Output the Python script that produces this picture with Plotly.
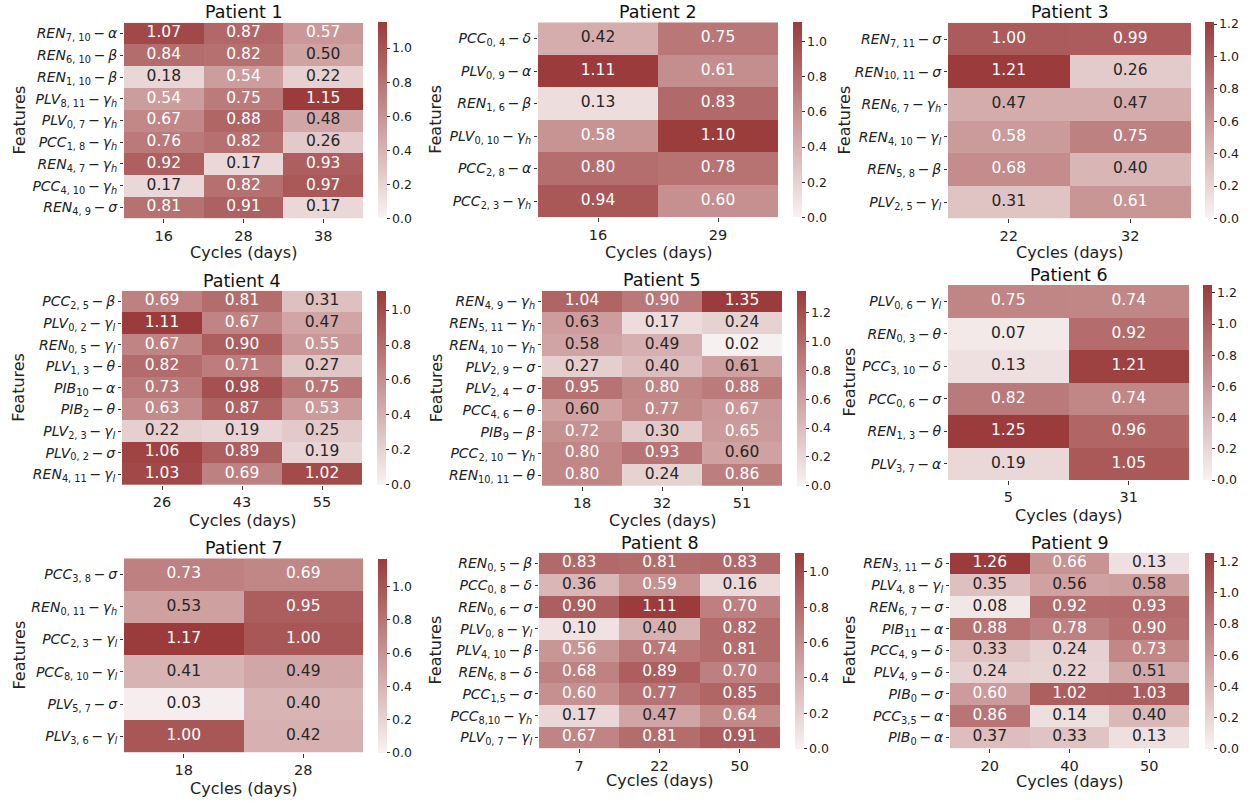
import plotly.graph_objects as go

# ---------------- data ----------------
p1_cycles = ["16", "28", "38"]
p1_features = [("REN", "7, 10", "α"), ("REN", "6, 10", "β"), ("REN", "1, 10", "β"),
               ("PLV", "8, 11", "γh"), ("PLV", "0, 7", "γh"), ("PCC", "1, 8", "γh"),
               ("REN", "4, 7", "γh"), ("PCC", "4, 10", "γh"), ("REN", "4, 9", "σ")]
p1_values = [[1.07, 0.87, 0.57], [0.84, 0.82, 0.50], [0.18, 0.54, 0.22],
             [0.54, 0.75, 1.15], [0.67, 0.88, 0.48], [0.76, 0.82, 0.26],
             [0.92, 0.17, 0.93], [0.17, 0.82, 0.97], [0.81, 0.91, 0.17]]

p2_cycles = ["16", "29"]
p2_features = [("PCC", "0, 4", "δ"), ("PLV", "0, 9", "α"), ("REN", "1, 6", "β"),
               ("PLV", "0, 10", "γh"), ("PCC", "2, 8", "α"), ("PCC", "2, 3", "γh")]
p2_values = [[0.42, 0.75], [1.11, 0.61], [0.13, 0.83], [0.58, 1.10], [0.80, 0.78], [0.94, 0.60]]

p3_cycles = ["22", "32"]
p3_features = [("REN", "7, 11", "σ"), ("REN", "10, 11", "σ"), ("REN", "6, 7", "γh"),
               ("REN", "4, 10", "γl"), ("REN", "5, 8", "β"), ("PLV", "2, 5", "γl")]
p3_values = [[1.00, 0.99], [1.21, 0.26], [0.47, 0.47], [0.58, 0.75], [0.68, 0.40], [0.31, 0.61]]

p4_cycles = ["26", "43", "55"]
p4_features = [("PCC", "2, 5", "β"), ("PLV", "0, 2", "γl"), ("REN", "0, 5", "γl"),
               ("PLV", "1, 3", "θ"), ("PIB", "10", "α"), ("PIB", "2", "θ"),
               ("PLV", "2, 3", "γl"), ("PLV", "0, 2", "σ"), ("REN", "4, 11", "γl")]
p4_values = [[0.69, 0.81, 0.31], [1.11, 0.67, 0.47], [0.67, 0.90, 0.55],
             [0.82, 0.71, 0.27], [0.73, 0.98, 0.75], [0.63, 0.87, 0.53],
             [0.22, 0.19, 0.25], [1.06, 0.89, 0.19], [1.03, 0.69, 1.02]]

p5_cycles = ["18", "32", "51"]
p5_features = [("REN", "4, 9", "γh"), ("REN", "5, 11", "γh"), ("REN", "4, 10", "γh"),
               ("PLV", "2, 9", "σ"), ("PLV", "2, 4", "σ"), ("PCC", "4, 6", "θ"),
               ("PIB", "9", "β"), ("PCC", "2, 10", "γh"), ("REN", "10, 11", "θ")]
p5_values = [[1.04, 0.90, 1.35], [0.63, 0.17, 0.24], [0.58, 0.49, 0.02],
             [0.27, 0.40, 0.61], [0.95, 0.80, 0.88], [0.60, 0.77, 0.67],
             [0.72, 0.30, 0.65], [0.80, 0.93, 0.60], [0.80, 0.24, 0.86]]

p6_cycles = ["5", "31"]
p6_features = [("PLV", "0, 6", "γl"), ("REN", "0, 3", "θ"), ("PCC", "3, 10", "δ"),
               ("PCC", "0, 6", "σ"), ("REN", "1, 3", "θ"), ("PLV", "3, 7", "α")]
p6_values = [[0.75, 0.74], [0.07, 0.92], [0.13, 1.21], [0.82, 0.74], [1.25, 0.96], [0.19, 1.05]]

p7_cycles = ["18", "28"]
p7_features = [("PCC", "3, 8", "σ"), ("REN", "0, 11", "γh"), ("PCC", "2, 3", "γl"),
               ("PCC", "8, 10", "γl"), ("PLV", "5, 7", "σ"), ("PLV", "3, 6", "γl")]
p7_values = [[0.73, 0.69], [0.53, 0.95], [1.17, 1.00], [0.41, 0.49], [0.03, 0.40], [1.00, 0.42]]

p8_cycles = ["7", "22", "50"]
p8_features = [("REN", "0, 5", "β"), ("PCC", "0, 8", "δ"), ("REN", "0, 6", "σ"),
               ("PLV", "0, 8", "γl"), ("PLV", "4, 10", "β"), ("REN", "6, 8", "δ"),
               ("PCC", "1,5", "σ"), ("PCC", "8,10", "γh"), ("PLV", "0, 7", "γl")]
p8_values = [[0.83, 0.81, 0.83], [0.36, 0.59, 0.16], [0.90, 1.11, 0.70],
             [0.10, 0.40, 0.82], [0.56, 0.74, 0.81], [0.68, 0.89, 0.70],
             [0.60, 0.77, 0.85], [0.17, 0.47, 0.64], [0.67, 0.81, 0.91]]

p9_cycles = ["20", "40", "50"]
p9_features = [("REN", "3, 11", "δ"), ("PLV", "4, 8", "γl"), ("REN", "6, 7", "σ"),
               ("PIB", "11", "α"), ("PCC", "4, 9", "δ"), ("PLV", "4, 9", "δ"),
               ("PIB", "0", "σ"), ("PCC", "3,5", "α"), ("PIB", "0", "α")]
p9_values = [[1.26, 0.66, 0.13], [0.35, 0.56, 0.58], [0.08, 0.92, 0.93],
             [0.88, 0.78, 0.90], [0.33, 0.24, 0.73], [0.24, 0.22, 0.51],
             [0.60, 1.02, 1.03], [0.86, 0.14, 0.40], [0.37, 0.33, 0.13]]

patients = [
    ("Patient 1", p1_cycles, p1_features, p1_values),
    ("Patient 2", p2_cycles, p2_features, p2_values),
    ("Patient 3", p3_cycles, p3_features, p3_values),
    ("Patient 4", p4_cycles, p4_features, p4_values),
    ("Patient 5", p5_cycles, p5_features, p5_values),
    ("Patient 6", p6_cycles, p6_features, p6_values),
    ("Patient 7", p7_cycles, p7_features, p7_values),
    ("Patient 8", p8_cycles, p8_features, p8_values),
    ("Patient 9", p9_cycles, p9_features, p9_values),
]

# ---------------- layout (pixels) ----------------
W, H = 1256, 801
# left, right, top, bottom, colorbar-x, title-y, xlabel-y, ylabel-x
geom = [
    (124, 363, 22.7, 218.3, 378, 12, 252, 19),
    (538, 778, 22.3, 217.3, 793, 12, 252, 436),
    (948, 1191, 22.7, 218.3, 1205, 12, 252, 844),
    (122, 362, 290.7, 485, 377, 281, 520, 19),
    (542, 782, 290.7, 486, 797, 280, 520, 436),
    (948, 1189, 285, 480, 1203, 275, 515, 849),
    (124, 363, 558.3, 752.7, 378, 548, 788, 19),
    (539, 780, 552.7, 748.3, 795, 543, 780, 435),
    (950, 1189, 552.7, 748.3, 1205, 543, 781, 849),
]

LIGHT = (248, 243, 243)
DARK = (155, 59, 59)
colorscale = [[0, "rgb(%d,%d,%d)" % LIGHT], [1, "rgb(%d,%d,%d)" % DARK]]
FONT = "DejaVu Sans"
TXT_DARK = "rgb(38,38,38)"


def fmt_label(f):
    meas, sub, band = f
    b = "<i>%s</i>" % band[0]
    if len(band) > 1:
        b += "<sub><i>%s</i></sub>" % band[1:]
    return "<i>%s</i><sub>%s</sub>\u2009−\u2009%s" % (meas, sub, b)


fig = go.Figure()
annotations = []
layout_axes = {}

for i, ((title, cycles, feats, vals), g) in enumerate(zip(patients, geom)):
    L, R, T, B, cbx, ty, xly, ylx = g
    n = "" if i == 0 else str(i + 1)
    xa, ya = "x" + n, "y" + n
    labels = [fmt_label(f) for f in feats]
    zmax = max(max(r) for r in vals)

    fig.add_trace(go.Heatmap(
        z=vals, x=cycles, y=labels, xaxis=xa, yaxis=ya,
        zmin=0, zmax=zmax, colorscale=colorscale, hoverinfo="skip",
        colorbar=dict(
            x=cbx / W, xanchor="left", y=1 - (T + B) / 2 / H, yanchor="middle",
            len=B - T, lenmode="pixels", thickness=9, thicknessmode="pixels",
            outlinewidth=0, xpad=0, ypad=0, tick0=0, dtick=0.2, tickformat=".1f",
            ticks="outside", ticklen=3, tickcolor="#333",
            tickfont=dict(family=FONT, size=12.5, color="#222"),
        ),
    ))

    tx, tyy, tt, tc = [], [], [], []
    for r, lab in enumerate(labels):
        for c, cy in enumerate(cycles):
            v = vals[r][c]
            tx.append(cy)
            tyy.append(lab)
            tt.append("%.2f" % v)
            tc.append("white" if v / zmax > 0.468 else TXT_DARK)
    fig.add_trace(go.Scatter(
        x=tx, y=tyy, text=tt, mode="text", xaxis=xa, yaxis=ya,
        textfont=dict(family=FONT, size=15.5, color=tc), hoverinfo="skip",
        showlegend=False,
    ))

    kx = "xaxis" + n
    ky = "yaxis" + n
    layout_axes[kx] = dict(
        domain=[L / W, R / W], anchor=ya, type="category", showgrid=False,
        zeroline=False, showline=False, ticks="outside", ticklen=4,
        tickcolor="#333", tickfont=dict(family=FONT, size=14.5, color="#222"),
    )
    layout_axes[ky] = dict(
        domain=[1 - B / H, 1 - T / H], anchor=xa, type="category",
        autorange="reversed", showgrid=False, zeroline=False, showline=False,
        ticks="outside", ticklen=3, tickcolor="#333",
        tickfont=dict(family=FONT, size=14, color="#222"),
    )

    cx = (L + R) / 2 / W
    annotations.append(dict(text=title, x=cx, y=1 - ty / H, xref="paper", yref="paper",
                            showarrow=False, xanchor="center", yanchor="middle",
                            font=dict(family=FONT, size=17.5, color="#111")))
    annotations.append(dict(text="Cycles (days)", x=cx, y=1 - xly / H, xref="paper",
                            yref="paper", showarrow=False, xanchor="center",
                            yanchor="middle", font=dict(family=FONT, size=16, color="#222")))
    annotations.append(dict(text="Features", x=ylx / W, y=1 - (T + B) / 2 / H,
                            xref="paper", yref="paper", showarrow=False, textangle=-90,
                            xanchor="center", yanchor="middle",
                            font=dict(family=FONT, size=16, color="#222")))

fig.update_layout(
    width=W, height=H, margin=dict(l=0, r=0, t=0, b=0),
    paper_bgcolor="white", plot_bgcolor="white", showlegend=False,
    font=dict(family=FONT), annotations=annotations, **layout_axes,
)

fig.write_html("out.html", config={"displayModeBar": False},
               post_script="document.body.style.margin='0';document.body.style.overflow='hidden';")
